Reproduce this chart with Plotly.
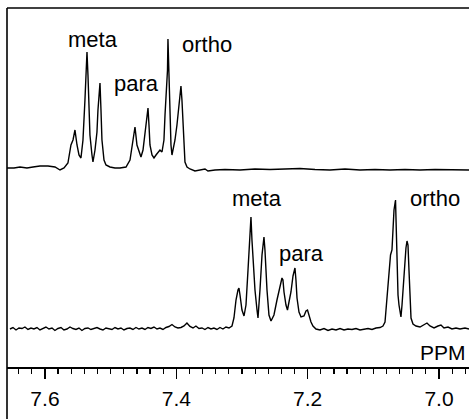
import plotly.graph_objects as go

# ---------------- data ----------------
# Upper spectrum: chemical shift (ppm) and intensity (arbitrary units)
top_ppm = [7.6578, 7.6472, 7.6380, 7.6274, 7.6182, 7.6076, 7.5954, 7.5847, 7.5771, 7.5710,
           7.5650, 7.5604, 7.5573, 7.5543, 7.5512, 7.5482, 7.5452, 7.5421, 7.5391, 7.5375,
           7.5360, 7.5345, 7.5330, 7.5315, 7.5284, 7.5269, 7.5238, 7.5208, 7.5193, 7.5162,
           7.5147, 7.5132, 7.5101, 7.5071, 7.5010, 7.4934, 7.4858, 7.4766, 7.4705, 7.4660,
           7.4629, 7.4599, 7.4568, 7.4538, 7.4507, 7.4477, 7.4447, 7.4431, 7.4416, 7.4401,
           7.4370, 7.4340, 7.4309, 7.4279, 7.4249, 7.4218, 7.4188, 7.4172, 7.4150, 7.4134,
           7.4127, 7.4112, 7.4096, 7.4081, 7.4066, 7.4051, 7.4020, 7.3990, 7.3967, 7.3944,
           7.3929, 7.3914, 7.3898, 7.3883, 7.3868, 7.3837, 7.3792, 7.3716, 7.3639, 7.3563,
           7.3518, 7.3411, 7.3259, 7.3030, 7.2802, 7.2573, 7.2345, 7.2117, 7.1888, 7.1660,
           7.1431, 7.1203, 7.0974, 7.0746, 7.0518, 7.0289, 7.0061, 6.9832, 6.9543]
top_int = [0, 0, 1, 0, 1, 2, 2, 1, -2, 0,
           5, 23, 28, 38, 23, 13, 10, 28, 68, 98,
           116, 93, 58, 33, 13, 6, 18, 36, 58, 85,
           58, 28, 8, 3, 1, 0, 0, 1, 8, 28,
           41, 23, 16, 11, 18, 33, 53, 60, 43, 23,
           13, 10, 13, 16, 18, 16, 28, 53, 76, 98,
           129, 88, 48, 23, 13, 18, 28, 43, 58, 78,
           82, 68, 43, 18, 6, 1, -1, -3, -2, -1,
           -3, -2, -1.5, -2, -1, -1.5, -1, -0.5, -1.5, -2,
           -1, -2, -1.5, -2, -1.5, -2, -1.5, -2, -2]

# Lower spectrum
bot_ppm = [7.6533, 7.6487, 7.6441, 7.6396, 7.6350, 7.6305, 7.6259, 7.6213, 7.6168, 7.6122,
           7.6076, 7.6031, 7.5985, 7.5939, 7.5893, 7.5848, 7.5802, 7.5756, 7.5711, 7.5665,
           7.5619, 7.5574, 7.5528, 7.5482, 7.5437, 7.5391, 7.5345, 7.5300, 7.5254, 7.5208,
           7.5162, 7.5117, 7.5071, 7.5025, 7.4980, 7.4934, 7.4888, 7.4843, 7.4797, 7.4751,
           7.4706, 7.4660, 7.4614, 7.4569, 7.4523, 7.4477, 7.4432, 7.4386, 7.4340, 7.4294,
           7.4249, 7.4203, 7.4157, 7.4112, 7.4066, 7.4020, 7.3975, 7.3929, 7.3883, 7.3838,
           7.3792, 7.3746, 7.3701, 7.3655, 7.3609, 7.3564, 7.3518, 7.3472, 7.3427, 7.3381,
           7.3335, 7.3290, 7.3244, 7.3198, 7.3152,
           7.3122, 7.3091, 7.3061, 7.3046, 7.3030, 7.3000, 7.2969, 7.2939, 7.2908, 7.2878,
           7.2863, 7.2848, 7.2832, 7.2802, 7.2771, 7.2756, 7.2726, 7.2695, 7.2665, 7.2650,
           7.2619, 7.2589, 7.2558, 7.2513, 7.2467, 7.2421, 7.2391, 7.2376, 7.2360, 7.2330,
           7.2307, 7.2284, 7.2254, 7.2223, 7.2193, 7.2178, 7.2162, 7.2132, 7.2101, 7.2056,
           7.2025, 7.2002, 7.1980, 7.1949, 7.1919, 7.1873,
           7.1812, 7.1751, 7.1690, 7.1629, 7.1568, 7.1507, 7.1446, 7.1386, 7.1325, 7.1264,
           7.1203, 7.1142, 7.1081, 7.1020, 7.0959, 7.0898, 7.0853, 7.0822, 7.0792, 7.0761,
           7.0738, 7.0716, 7.0700, 7.0685, 7.0662, 7.0655, 7.0640, 7.0624, 7.0609, 7.0594,
           7.0579, 7.0563, 7.0548, 7.0533, 7.0518, 7.0503, 7.0487, 7.0472, 7.0457, 7.0442,
           7.0426, 7.0396, 7.0350, 7.0289, 7.0228, 7.0183, 7.0137, 7.0076, 7.0015, 6.9970,
           6.9924, 6.9863, 6.9802, 6.9741, 6.9680, 6.9604, 6.9543]
bot_int = [0, 1.5, -1, 1, 0.5, 2, -0.5, 1, 0, 1.5,
           -1, 0.5, 2, 0, 1, -1.5, 0.5, 1.5, -1, 0,
           2, 0.5, -0.5, 1, -1.5, 0.5, 1, -0.5, 0.5, 1.5,
           0, -1, 1, 0.5, -0.5, 1.5, 0, 1, -1, 0.5,
           1, -0.5, 1.5, 0, 1, -0.5, 1.5, 0.5, 2, 0,
           1, -0.5, 1.5, 2.5, 4.5, 2, 1, 1.5, 3, 6,
           2.5, 1, 3, 0.5, 1, -0.5, 1.5, 0, 1, -0.5,
           1.5, 0, 2, 1, 3,
           11, 29, 39, 41, 34, 19, 13, 24, 59, 94,
           112, 89, 71, 39, 19, 11, 39, 74, 92, 79,
           39, 14, 8, 14, 29, 44, 51, 49, 37, 24,
           19, 27, 37, 53, 61, 49, 31, 17, 12, 13,
           18, 19, 13, 7, 3, 0,
           -1, 0.5, -1.5, 0, -1, 0.5, -1, 0, -0.5, 0.5,
           -1, 0, 0.5, -0.5, 1, 1.5, 3, 7, 29, 59,
           74, 79, 99, 119, 129, 109, 69, 34, 24, 19,
           12, 24, 39, 51, 67, 81, 88, 84, 59, 24,
           11, 5, 3, 2, 4, 6, 3, 1, 3, 4,
           1, 2, 0, 1, 0, 1, 0]

# labels: (text, ppm, height)
label_text = ["meta", "para", "ortho", "meta", "para", "ortho"]
label_ppm = [7.5276, 7.4606, 7.3533, 7.2771, 7.2101, 7.0061]
label_h = [327.5, 283.3, 322.3, 169.0, 113.3, 169.0]

tick_vals = [7.6, 7.4, 7.2, 7.0]
tick_text = ["7.6", "7.4", "7.2", "7.0"]
axis_title = "PPM"

# ---------------- layout constants ----------------
TOP_OFFSET = 199
BOT_OFFSET = 38
W, H = 469, 419
ML, MR, MT, MB = 7, 0, 8, 52
PLOT_H = H - MT - MB
FONT = "Liberation Sans, Arial, sans-serif"

fig = go.Figure()
fig.add_trace(go.Scatter(x=top_ppm, y=[v + TOP_OFFSET for v in top_int], mode="lines",
                         line=dict(color="black", width=1.4), hoverinfo="skip"))
fig.add_trace(go.Scatter(x=bot_ppm, y=[v + BOT_OFFSET for v in bot_int], mode="lines",
                         line=dict(color="black", width=1.4), hoverinfo="skip"))

for t, xp, yh in zip(label_text, label_ppm, label_h):
    fig.add_annotation(x=xp, y=yh, text=t, showarrow=False, xanchor="center", yanchor="middle",
                       font=dict(family=FONT, size=22, color="black"))

fig.add_annotation(x=6.9580, y=15, text=axis_title, showarrow=False, xanchor="right",
                   yanchor="middle", borderpad=0,
                   font=dict(family=FONT, size=21, color="black"))

# frame: left line extends below the axis, top line
fig.add_shape(type="line", xref="paper", yref="paper", x0=0, x1=0,
              y0=-MB / PLOT_H, y1=1, line=dict(color="black", width=1.6))
fig.add_shape(type="line", xref="paper", yref="paper", x0=0, x1=1,
              y0=1, y1=1, line=dict(color="black", width=1.4))

fig.update_layout(
    width=W, height=H,
    margin=dict(l=ML, r=MR, t=MT, b=MB, pad=0),
    paper_bgcolor="white", plot_bgcolor="white",
    showlegend=False,
    xaxis=dict(range=[7.6578, 6.9543], showgrid=False, zeroline=False,
               showline=True, linecolor="black", linewidth=1.6,
               ticks="outside", ticklen=10, tickwidth=1.4, tickcolor="black",
               tickvals=tick_vals, ticktext=tick_text, ticklabelstandoff=2,
               tickfont=dict(family=FONT, size=21, color="black"),
               minor=dict(dtick=0.02, tick0=7.0, ticks="outside", ticklen=5,
                          tickwidth=1.2, tickcolor="black", showgrid=False)),
    yaxis=dict(range=[0, PLOT_H], visible=False, showgrid=False, zeroline=False),
)

fig.write_html("out.html", config={"displayModeBar": False, "staticPlot": True},
               post_script="document.body.style.margin='0';document.body.style.overflow='hidden';")
